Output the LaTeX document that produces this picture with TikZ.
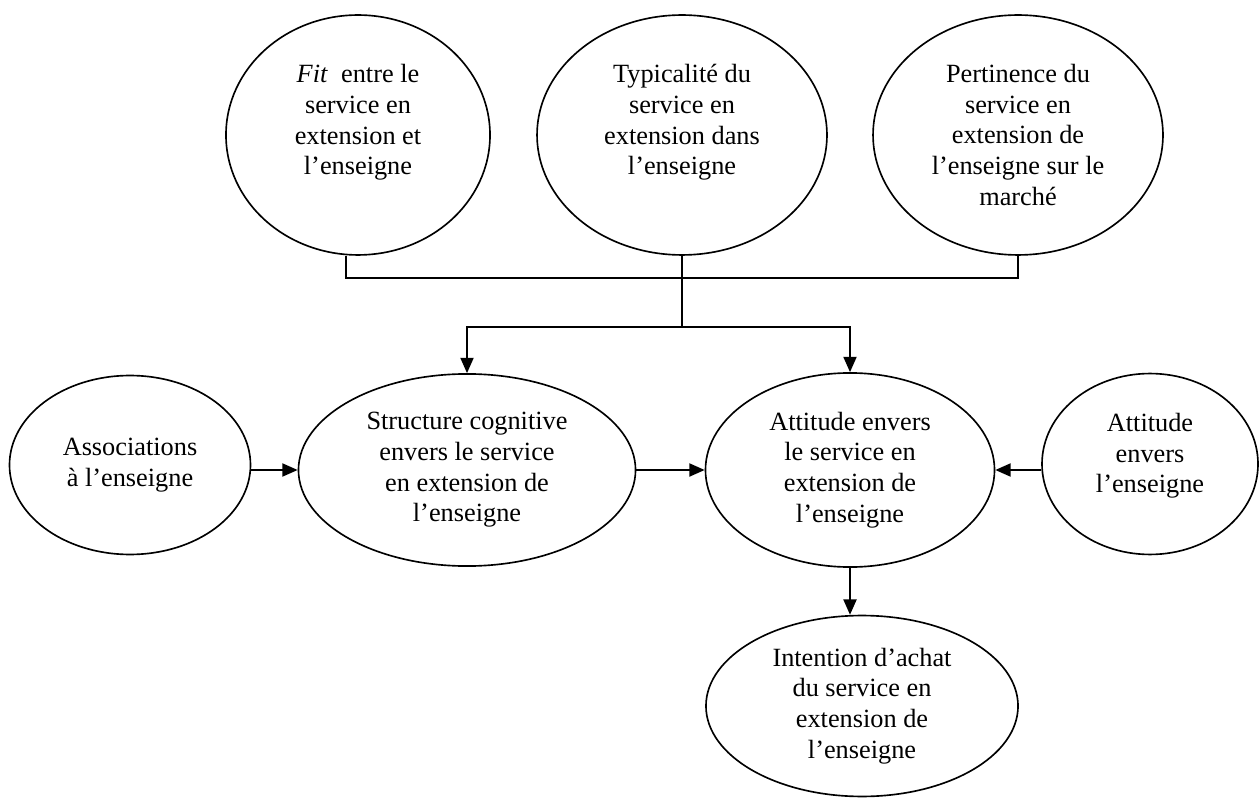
\documentclass[tikz,border=0pt]{standalone}
\usepackage{fontspec}
\setmainfont{Liberation Serif}
\usetikzlibrary{shapes.geometric}
\usetikzlibrary{arrows.meta}
\def\thickness{0.75pt}
\def\px{0.456pt}
\tikzstyle{oval}=[ellipse, draw=black, inner sep=0pt, line width=\thickness, align=center, font=\fontsize{12}{14}\selectfont]
\tikzstyle{wire}=[line width=\thickness]
\tikzset{feeds/.style={wire, -{Triangle[length=7pt,width=6pt]}}}

\begin{document}
\begin{tikzpicture}[x=\px, y=-\px]
\useasboundingbox (0,0) rectangle (1259,798);
% antecedents
\node [oval, minimum width=120.4pt, minimum height=109.4pt] (fit) at (358,135) {\textit{Fit}\ \ entre le\\service en\\extension et\\l’enseigne\\\mbox{}};
\node [oval, minimum width=132.2pt, minimum height=109.4pt] (typ) at (682,135) {Typicalité du\\service en\\extension dans\\l’enseigne\\\mbox{}};
\node [oval, minimum width=132.2pt, minimum height=109.4pt] (pert) at (1018,135) {Pertinence du\\service en\\extension de\\l’enseigne sur le\\marché};
% middle row
\node [oval, minimum width=109.9pt, minimum height=81.6pt] (assoc) at (130,465) {Associations\\à l’enseigne};
\node [oval, minimum width=153.7pt, minimum height=87.6pt] (struct) at (467,470) {Structure cognitive\\envers le service\\en extension de\\l’enseigne};
\node [oval, minimum width=131.8pt, minimum height=88.5pt] (attserv) at (850,470) {Attitude envers\\le service en\\extension de\\l’enseigne};
\node [oval, minimum width=98.5pt, minimum height=82.5pt] (attens) at (1150,464) {Attitude\\envers\\l’enseigne\\[-4pt]\mbox{}};
\node [oval, minimum width=142.3pt, minimum height=82.5pt] (intent) at (862,706) {Intention d’achat\\du service en\\extension de\\l’enseigne};
% bracket
\coordinate (jleft) at (346,278);
\coordinate (jmid) at (682,327);
\draw [wire] (fit.south -| jleft) |- (pert.south |- jleft) -- (pert.south);
\draw [wire] (typ.south) -- (jmid);
\draw [feeds] (jmid) -| (struct.north);
\draw [feeds] (jmid) -| (attserv.north);
% arrows
\draw [feeds] (assoc.east |- struct.west) -- (struct.west);
\draw [feeds] (struct.east) -- (attserv.west);
\draw [feeds] (attens.west |- attserv.east) -- (attserv.east);
\draw [feeds] (attserv.south) -- (attserv.south |- intent.north);
\end{tikzpicture}
\end{document}
